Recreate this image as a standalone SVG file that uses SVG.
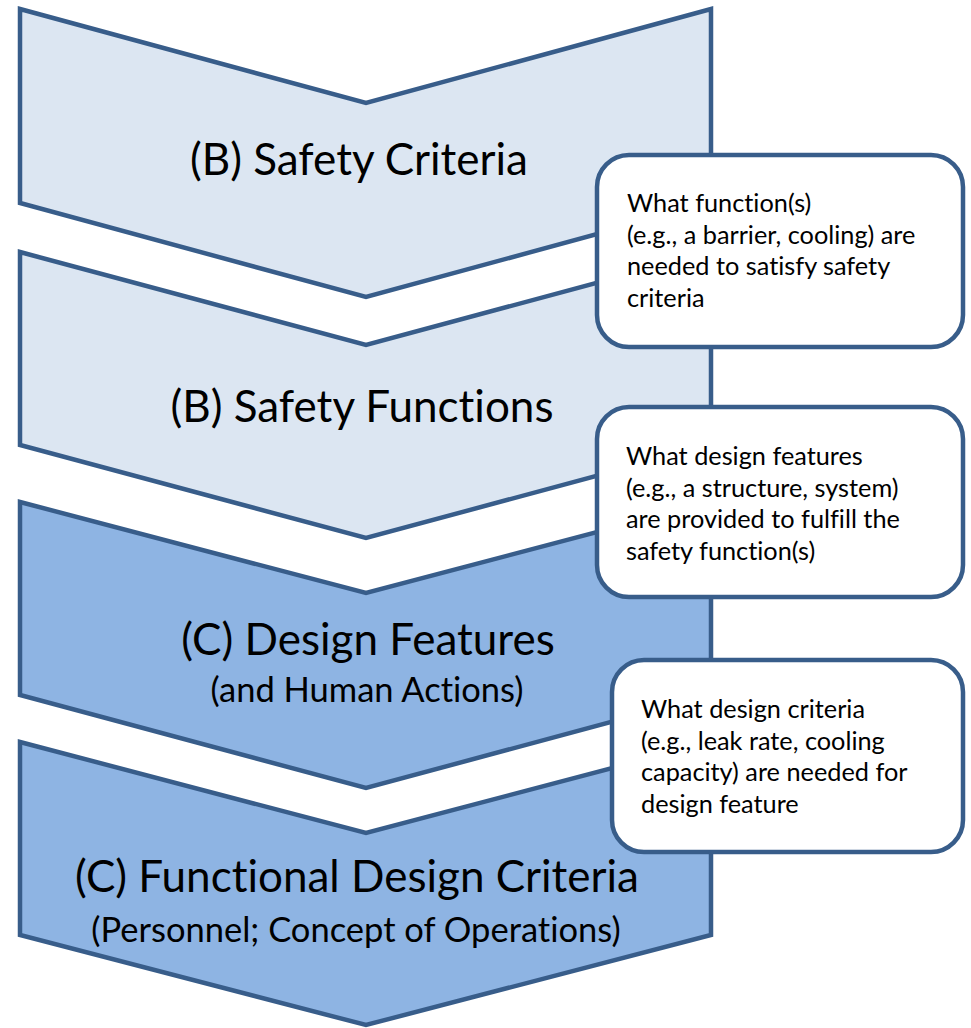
<svg xmlns="http://www.w3.org/2000/svg" width="971" height="1028" viewBox="0 0 971 1028">
  <style>
    .chev { stroke: #385D8A; stroke-width: 4.5; stroke-linejoin: miter; }
    .light { fill: #DCE6F2; }
    .dark { fill: #8EB4E3; }
    .note { fill: #FFFFFF; stroke: #385D8A; stroke-width: 4.5; }
    text { font-family: Lato, "Liberation Sans", sans-serif; fill: #000; font-variant-ligatures: none; }
    .title { font-size: 44px; text-anchor: middle; }
    .sub { font-size: 34.5px; text-anchor: middle; }
    .txt { font-size: 25.3px; }
  </style>
  <rect width="971" height="1028" fill="#FFFFFF"/>

  <!-- stacked chevrons -->
  <g id="safety-criteria">
    <polygon class="chev light" points="20,9 366,103 711,9 711,203 366,297 20,203"/>
    <text class="title" x="359" y="175">(B) Safety Criteria</text>
  </g>
  <g id="safety-functions">
    <polygon class="chev light" points="20,252 366,345 711,252 711,445 366,538 20,445"/>
    <text class="title" x="362" y="422">(B) Safety Functions</text>
  </g>
  <g id="design-features">
    <polygon class="chev dark" points="20,502 366,593 711,502 711,695 366,788 20,695"/>
    <text class="title" x="368" y="655">(C) Design Features</text>
    <text class="sub" x="367" y="702">(and Human Actions)</text>
  </g>
  <g id="functional-design-criteria">
    <polygon class="chev dark" points="20,742 366,833 711,742 711,935 366,1025 20,935"/>
    <text class="title" x="357" y="892">(C) Functional Design Criteria</text>
    <text class="sub" x="356" y="942">(Personnel; Concept of Operations)</text>
  </g>

  <!-- side notes -->
  <g id="note-functions">
    <rect class="note" x="597" y="155" width="366" height="192" rx="32" ry="32"/>
    <text class="txt" x="627" y="212">What function(s)</text>
    <text class="txt" x="627" y="244">(e.g., a barrier, cooling) are</text>
    <text class="txt" x="627" y="275">needed to satisfy safety</text>
    <text class="txt" x="627" y="307">criteria</text>
  </g>
  <g id="note-features">
    <rect class="note" x="597" y="407" width="366" height="190" rx="32" ry="32"/>
    <text class="txt" x="626" y="465">What design features</text>
    <text class="txt" x="626" y="497">(e.g., a structure, system)</text>
    <text class="txt" x="626" y="528">are provided to fulfill the</text>
    <text class="txt" x="626" y="560">safety function(s)</text>
  </g>
  <g id="note-criteria">
    <rect class="note" x="612" y="660" width="351" height="192" rx="32" ry="32"/>
    <text class="txt" x="641" y="718">What design criteria</text>
    <text class="txt" x="641" y="750">(e.g., leak rate, cooling</text>
    <text class="txt" x="641" y="781">capacity) are needed for</text>
    <text class="txt" x="641" y="813">design feature</text>
  </g>
</svg>
